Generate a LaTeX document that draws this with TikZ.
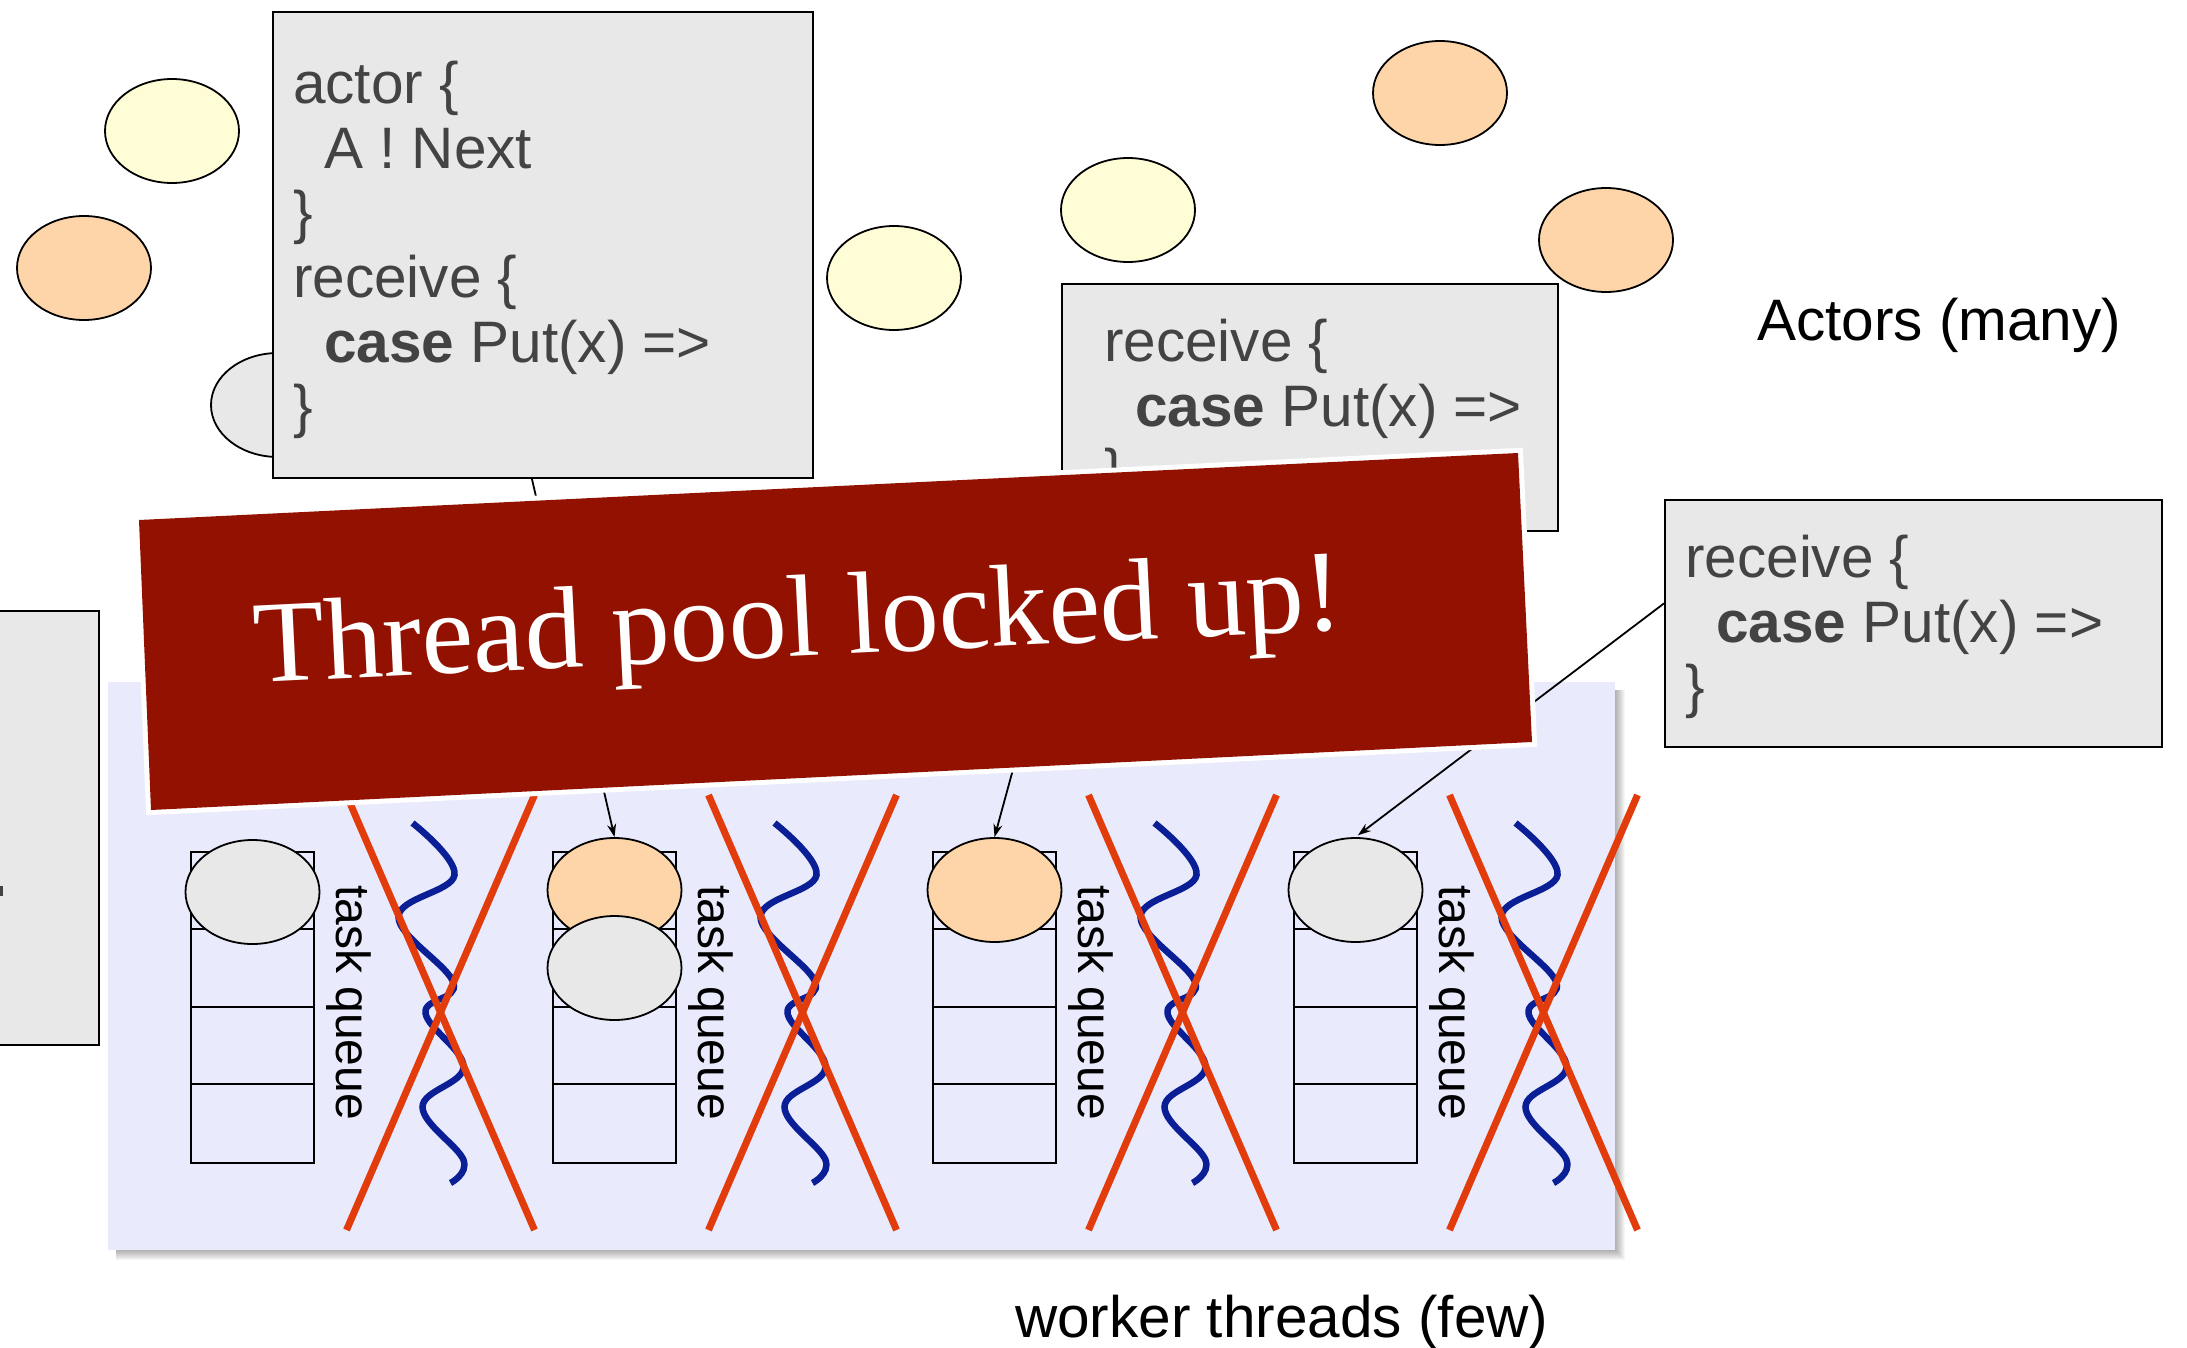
\documentclass[tikz,border=0pt]{standalone}
\usepackage{fontspec}
\setmainfont{Liberation Sans}
\newfontfamily\bannerfont{Liberation Serif}
\usetikzlibrary{arrows.meta,shapes.geometric}

\definecolor{codefill}{HTML}{E8E8E8}
\definecolor{codetext}{HTML}{434343}
\definecolor{actoryellow}{HTML}{FFFDD6}
\definecolor{actororange}{HTML}{FDD5A8}
\definecolor{actorgray}{HTML}{E8E8E8}
\definecolor{poolblue}{HTML}{E9EAFC}
\definecolor{bannerred}{HTML}{921100}
\definecolor{crossred}{HTML}{E23C0C}
\definecolor{threadblue}{HTML}{0A1E96}

\tikzset{
  actor/.style={ellipse, draw=black, line width=1.8pt, minimum width=134pt,
    minimum height=104pt, inner sep=0pt},
  codebox/.style={rectangle, draw=black, line width=1.8pt, fill=codefill,
    anchor=north west, inner sep=0pt},
  codeline/.style={anchor=base west, inner sep=0pt, text=codetext,
    font=\fontsize{58.5}{64}\selectfont},
  queuebox/.style={rectangle, draw=black, line width=2pt, minimum width=123pt,
    minimum height=311pt, inner sep=0pt},
  qlabel/.style={anchor=base west, rotate=-90, inner sep=0pt,
    font=\fontsize{48}{48}\selectfont},
  thread/.style={threadblue, line width=6.5pt},
  crossline/.style={crossred, line width=7pt},
  conn/.style={black, line width=1.8pt, -{Stealth[length=13pt,width=9pt]}},
  caption/.style={anchor=base west, inner sep=0pt, font=\fontsize{58.5}{58.5}\selectfont}
}

\begin{document}
\begin{tikzpicture}[x=1pt,y=-1pt]
\useasboundingbox (0,0) rectangle (2187,1348);
\clip (0,0) rectangle (2187,1348);

% actors floating around
\node[actor, fill=actoryellow] (ay1) at (172,131) {};
\node[actor, fill=actororange] (ao1) at (84,268) {};
\node[actor, fill=actorgray]   (ag1) at (278,405) {};
\node[actor, fill=actoryellow] (ay2) at (894,278) {};
\node[actor, fill=actoryellow] (ay3) at (1128,210) {};
\node[actor, fill=actororange] (ao2) at (1440,93) {};
\node[actor, fill=actororange] (ao3) at (1606,240) {};

% partly visible code box at the left edge
\node[codebox, minimum width=110pt, minimum height=434pt] (boxD) at (-12,610) {};
\fill[codetext] (-2,886) rectangle (3,896);

% code boxes
\node[codebox, minimum width=540pt, minimum height=466pt] (boxA) at (272,11) {};
\node[codeline] (a1) at (293,104)   {actor \{};
\node[codeline] (a2) at (324,168.5) {A ! Next};
\node[codeline] (a3) at (293,233)   {\}};
\node[codeline] (a4) at (293,297.5) {receive \{};
\node[codeline] (a5) at (324,362)   {\textbf{case} Put(x) =>};
\node[codeline] (a6) at (293,426.5) {\}};

\node[codebox, minimum width=496pt, minimum height=247pt] (boxB) at (1061,283) {};
\node[codeline] (b1) at (1104,361) {receive \{};
\node[codeline] (b2) at (1135,426) {\textbf{case} Put(x) =>};
\node[codeline] (b3) at (1104,490) {\}};

\node[codebox, minimum width=497pt, minimum height=247pt] (boxC) at (1664,499) {};
\node[codeline] (c1) at (1685,577) {receive \{};
\node[codeline] (c2) at (1716,642) {\textbf{case} Put(x) =>};
\node[codeline] (c3) at (1685,706) {\}};

% soft shadow and thread pool panel
\foreach \k in {1,...,10}
  \fill[black, opacity=0.035] (116,690) rectangle (1615+\k,1250+\k);
\node[rectangle, fill=poolblue, inner sep=0pt, anchor=north west,
  minimum width=1507pt, minimum height=568pt] (pool) at (108,682) {};

% task queues
\foreach \n/\cx in {1/252.5, 2/614.5, 3/994.5, 4/1355.5} {
  \node[queuebox] (q\n) at (\cx,1007.5) {};
  \foreach \k in {1,2,3}
    \draw[line width=2pt] ([yshift=-\k*77.75pt]q\n.north west) -- ([yshift=-\k*77.75pt]q\n.north east);
  \node[qlabel] (ql\n) at (\cx+84,885) {task queue};
}

% queued actors
\node[actor, fill=actorgray]   (t1)  at (252.5,892) {};
\node[actor, fill=actororange] (t2a) at (614.5,890) {};
\node[actor, fill=actorgray]   (t2b) at (614.5,968) {};
\node[actor, fill=actororange] (t3)  at (994.5,890) {};
\node[actor, fill=actorgray]   (t4)  at (1355.5,890) {};

% worker threads, all crossed out
\foreach \cx in {252.5, 614.5, 994.5, 1355.5} {
  \draw[thread, line cap=butt, shift={(\cx,0)}] plot[smooth, tension=0.65] coordinates
    {(160,823) (202,875) (146,917) (201,983) (173,1013) (211,1067) (170,1107) (211,1160) (198,1183)};
  \draw[crossline] (\cx+94,795) -- (\cx+282,1230);
  \draw[crossline] (\cx+282,795) -- (\cx+94,1230);
}

% messages delivered to the queues
\draw[conn] ([xshift=-11pt]boxA.south) -- (t2a.north);
\draw[conn] ([xshift=17pt]boxB.south west) -- (t3.north);
\draw[conn, shorten >=3pt] ([yshift=20pt]boxC.west) -- (t4.north);

% banner
\coordinate (bn1) at (139,520);
\coordinate (bn2) at (1518,453);
\coordinate (bn3) at (1532,742);
\coordinate (bn4) at (151,810);
\draw[white, line width=10pt, line join=miter] (bn1) -- (bn2) -- (bn3) -- (bn4) -- cycle;
\fill[bannerred] (bn1) -- (bn2) -- (bn3) -- (bn4) -- cycle;
\node[anchor=base west, rotate=2.8, inner sep=0pt, text=white,
  font=\bannerfont\fontsize{116.5}{116.5}\selectfont] (bannertext) at (255,683)
  {Thread pool locked up!};

% captions
\node[caption] (actorscap) at (1757,341) {Actors (many)};
\node[caption] (workerscap) at (1015,1337) {worker threads (few)};
\end{tikzpicture}
\end{document}
